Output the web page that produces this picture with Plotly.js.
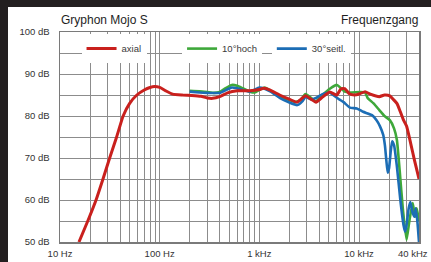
<!DOCTYPE html>
<html>
<head>
<meta charset="utf-8">
<script src="https://cdn.plot.ly/plotly-3.0.1.min.js"></script>
<style>
html,body{margin:0;padding:0;background:#231f20;width:431px;height:262px;overflow:hidden;}
#chart{position:absolute;left:8px;top:7px;width:423px;height:255px;background:#fff;}
</style>
</head>
<body>
<div id="chart"></div>
<script>
// ---- data ----
const axialFreq = [15.5,19,23,27,31.5,37,43,50,59,70,80,89,100,115,135,170,210,260,300,340,400,480,600,800,1000,1100,1250,1600,2000,2400,2900,3300,3700,4300,5100,6000,6600,7200,8000,9000,10200,11500,13000,16000,18000,20400,22000,24000,26000,28000,30000,33000,36000,40000];
const axialDb   = [50,55,60,65,70,75,80,83,85,86.2,86.8,87.0,86.8,86,85.2,85.0,84.9,84.7,84.3,84.2,84.6,85.5,86.0,86.0,86.3,86.6,86.3,85.0,84.0,83.3,84.8,84.0,83.3,84.5,85.7,85.0,86.5,86.5,85.3,85.0,85.3,85.8,85.2,84.6,85.0,84.8,84.0,83.0,81.0,79.0,77.6,73.5,69.5,65];

const hochFreq = [200,250,300,350,400,450,530,600,680,800,900,1000,1130,1300,1600,2000,2300,2600,2900,3300,3700,4300,5100,6000,6600,7200,8000,10200,11500,12200,14000,16000,18000,20400,22500,24000,25600,27500,30000,32000,34600,36500,38000,40000];
const hochDb   = [86.0,85.9,85.7,85.5,85.7,86.5,87.4,87.2,86.6,85.8,85.6,86.2,86.8,86.0,84.5,83.8,83.3,83.8,85.2,84.3,83.5,85.0,86.5,87.4,86.6,85.8,85.6,85.7,85.6,84.3,83.0,81.4,80.0,79.0,77.0,74.3,67,58,50.5,55,59.3,56,58,55];

const seitlFreq = [200,250,300,400,530,600,800,1000,1130,1300,1600,2000,2400,2700,2900,3300,3700,4300,5100,5500,6300,7000,8100,9500,11000,13500,15000,16200,17500,18200,18800,19400,20000,20800,21500,22500,24000,26000,28000,29000,30000,31500,32800,34500,36000,37000,38500,40000];
const seitlDb   = [85.8,85.6,85.5,85.5,86.8,86.6,85.8,86.8,86.5,85.8,84.3,83.2,82.6,83.5,84.5,84.0,84.3,85.2,85.6,85.0,84.0,83.3,82.0,81.8,81.0,80.2,79.0,77.6,75.5,73.0,69.5,66.5,67.5,71.5,74,73,68,60,54,52.5,54,58,59.5,57,56,58,55,50];

const seriesNames = ['axial','10°hoch','30°seitl.'];
const xTickVals = [10,20,30,40,50,60,70,80,90,100,200,300,400,500,600,700,800,900,1000,2000,3000,4000,5000,6000,7000,8000,9000,10000,20000,30000,40000];
const xTickText = ['10 Hz','','','','','','','','','100 Hz','','','','','','','','','1 kHz','','','','','','','','','10 kHz','','',''];
const xEndLabel = '40 kHz';
const xEnd = 40000;
const yTickVals = [50,55,60,65,70,75,80,85,90,95,100];
const yTickText = ['50 dB','','60 dB','','70 dB','','80 dB','','90 dB','','100 dB'];

const red = '#c9201d', green = '#3ea83a', blue = '#1c6db5';

const traces = [
  {x: hochFreq, y: hochDb, name: seriesNames[1], mode:'lines', legend:'legend2',
   line:{color:green, width:2.6, shape:'spline', smoothing:0.45}},
  {x: seitlFreq, y: seitlDb, name: seriesNames[2], mode:'lines', legend:'legend3',
   line:{color:blue, width:2.6, shape:'spline', smoothing:0.45}},
  {x: axialFreq, y: axialDb, name: seriesNames[0], mode:'lines', legend:'legend',
   line:{color:red, width:3, shape:'spline', smoothing:0.45}}
];

const legBase = {bgcolor:'#ffffff', borderwidth:0, xanchor:'left', yanchor:'top', y:0.99,
  font:{family:'Liberation Sans, Arial, sans-serif', size:9.5, color:'#3a3a3a'}, itemwidth:30};

const layout = {
  width:423, height:255,
  margin:{l:52, r:12, t:25, b:20},
  paper_bgcolor:'#ffffff', plot_bgcolor:'#ffffff',
  font:{family:'Liberation Sans, Arial, sans-serif', size:9.5, color:'#333'},
  showlegend:true,
  legend: Object.assign({}, legBase, {x:0.06}),
  legend2: Object.assign({}, legBase, {x:0.34}),
  legend3: Object.assign({}, legBase, {x:0.59}),
  xaxis:{type:'log', range:[1, Math.log10(xEnd)], tickvals:xTickVals, ticktext:xTickText,
    showgrid:true, gridcolor:'#8c8c8c', gridwidth:1, zeroline:false,
    showline:true, mirror:true, linecolor:'#7a7a7a', linewidth:1.5,
    ticks:'', ticklabelstandoff:2, tickfont:{size:9.5, color:'#333'}, fixedrange:true},
  yaxis:{range:[50,100], tickvals:yTickVals, ticktext:yTickText,
    showgrid:true, gridcolor:'#8c8c8c', gridwidth:1, zeroline:false,
    showline:true, mirror:true, linecolor:'#7a7a7a', linewidth:1.5,
    ticks:'', ticklabelstandoff:7, tickfont:{size:9.5, color:'#333'}, fixedrange:true},
  annotations:[
    {text:'Gryphon Mojo S', xref:'paper', yref:'paper', x:-0.003, y:1.057, xanchor:'left', yanchor:'middle',
     showarrow:false, font:{size:12, color:'#1e1e1e'}},
    {text:'Frequenzgang', xref:'paper', yref:'paper', x:1.003, y:1.057, xanchor:'right', yanchor:'middle',
     showarrow:false, font:{size:12, color:'#1e1e1e'}},
    {text:xEndLabel, xref:'x', yref:'paper', x:Math.log10(xEnd), y:-0.055, xanchor:'right', yanchor:'middle',
     xshift:11, showarrow:false, font:{size:9.5, color:'#333'}}
  ]
};

Plotly.newPlot('chart', traces, layout, {displayModeBar:false, staticPlot:true});
</script>
</body>
</html>
